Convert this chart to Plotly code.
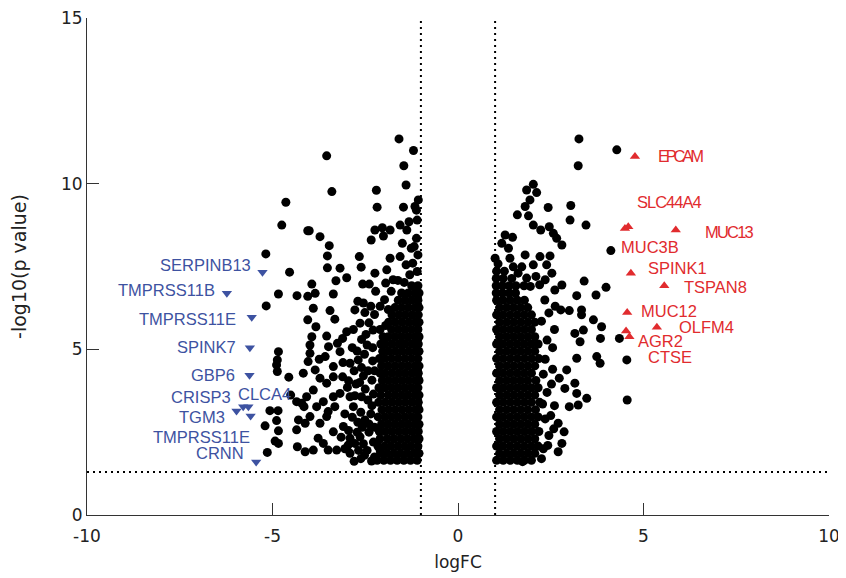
import plotly.graph_objects as go

# ---------------- data ----------------
fc_cut = 1.0
p_cut = 1.3

# sparse black points, left side (logFC, -log10 p)
left_sparse = [
    (-4.64, 9.44), (-4.75, 8.75), (-4.05, 8.58), (-5.18, 7.88), (-4.54, 7.33), (-4.84, 6.67),
    (-4.34, 6.62), (-4.05, 6.60), (-5.17, 6.31), (-4.05, 5.89), (-4.84, 4.93), (-4.87, 4.68),
    (-4.89, 4.53), (-4.87, 4.33), (-4.56, 4.16), (-4.17, 4.28), (-4.51, 3.62), (-4.35, 3.42),
    (-4.21, 3.37), (-5.07, 3.15), (-4.85, 3.15), (-4.89, 2.85), (-5.20, 2.69), (-4.84, 2.54),
    (-4.30, 2.87), (-4.35, 2.57), (-4.93, 2.23), (-4.84, 2.16), (-4.33, 2.06), (-5.14, 1.89),
    (-1.59, 11.35), (-1.20, 11.00), (-3.54, 10.84), (-1.46, 10.54), (-1.40, 9.96), (-3.40, 9.76),
    (-2.20, 9.80), (-2.18, 9.29), (-1.07, 9.51), (-1.16, 9.31), (-1.47, 9.29), (-4.01, 8.58),
    (-3.72, 8.40), (-3.47, 8.13), (-2.24, 8.60), (-2.04, 8.67), (-1.83, 8.60), (-1.56, 8.75),
    (-1.38, 8.60), (-2.34, 8.30), (-2.01, 8.42), (-3.52, 7.82), (-2.66, 7.80), (-1.83, 7.75),
    (-1.56, 7.80), (-3.52, 7.46), (-3.18, 7.45), (-3.00, 7.16), (-2.61, 7.48), (-2.24, 7.30),
    (-1.92, 7.40), (-3.94, 6.97), (-3.29, 7.07), (-3.36, 6.67), (-3.85, 6.69), (-2.57, 6.97),
    (-2.39, 6.97), (-3.90, 6.24), (-3.45, 6.17), (-3.32, 5.91), (-3.83, 5.68), (-3.94, 5.38),
    (-2.78, 6.19), (-2.51, 6.11), (-2.64, 5.79), (-3.00, 5.53), (-3.11, 5.33), (-3.25, 5.18),
    (-3.54, 5.40), (-3.49, 5.08), (-3.99, 5.13), (-3.99, 4.88), (-4.04, 4.63), (-3.74, 4.70),
    (-3.58, 4.78), (-3.18, 4.93), (-3.36, 4.48), (-3.85, 4.38), (-3.72, 4.13), (-3.54, 3.98),
    (-3.36, 4.17), (-3.11, 4.17), (-2.91, 4.58), (-2.69, 4.68), (-3.90, 3.77), (-4.08, 3.57),
    (-4.15, 3.27), (-3.81, 3.27), (-3.63, 3.42), (-3.36, 3.57), (-3.18, 3.67), (-3.32, 3.27),
    (-3.50, 3.12), (-3.54, 2.97), (-2.91, 3.57), (-2.82, 3.27), (-2.60, 3.57), (-3.99, 2.97),
    (-4.12, 2.77), (-3.72, 2.77), (-3.36, 2.51), (-3.09, 2.67), (-2.91, 2.32), (-2.96, 2.11),
    (-3.77, 2.32), (-3.63, 2.16), (-3.90, 1.96), (-4.12, 1.91), (-3.50, 1.96), (-3.27, 1.96),
    (-2.91, 1.86), (-2.78, 2.16), (-2.64, 2.36), (-2.33, 1.63), (-2.10, 1.96),
    (-2.51, 2.87), (-2.43, 3.47), (-2.32, 4.07), (-2.45, 5.13), (-2.29, 5.58), (-2.55, 4.20),
    (-2.40, 2.50), (-2.70, 2.80), (-2.52, 1.80), (-2.35, 3.05), (-2.75, 3.95), (-2.30, 4.65),
    (-2.48, 5.45), (-2.85, 5.05), (-2.35, 6.30), (-2.70, 6.45), (-2.22, 6.75), (-2.95, 4.05),
    (-1.10, 8.90), (-1.12, 8.35), (-1.18, 8.10), (-1.08, 7.85), (-1.22, 7.60), (-1.30, 7.25),
    (-1.45, 7.02), (-1.62, 7.08), (-1.10, 7.35), (-1.40, 7.55), (-1.75, 7.10), (-1.26, 8.05),
    (-1.50, 8.20), (-1.95, 7.00), (-1.12, 9.20), (-1.32, 8.85),
    (-2.25, 1.75), (-2.45, 1.95), (-2.62, 1.70), (-2.80, 1.62), (-2.28, 2.20), (-2.55, 2.15),
    (-2.72, 2.50), (-2.25, 2.65), (-2.58, 2.65), (-2.85, 2.95), (-2.32, 3.30), (-2.62, 3.10),
    (-2.78, 3.60), (-2.50, 3.80), (-2.28, 3.65), (-2.65, 4.00), (-2.42, 4.35), (-2.80, 4.35),
    (-2.60, 4.45), (-2.25, 4.35), (-2.52, 4.85), (-2.72, 4.95), (-2.30, 5.05), (-2.60, 5.30),
    (-2.82, 5.60), (-2.40, 5.80), (-2.25, 6.05), (-2.55, 6.40), (-2.95, 2.55), (-3.05, 3.05),
    (-2.98, 3.85), (-3.10, 4.60), (-3.05, 2.00), (-3.15, 2.35), (-2.68, 1.95), (-2.40, 2.75),
    (-1.98, 6.50), (-2.10, 6.30), (-1.80, 6.75), (-1.95, 5.72), (-1.88, 6.20),
]

# dense black core, left side: rows of (-log10 p, [logFC values])
left_core = [
    (1.65, [-2.18, -2.00, -1.82, -1.64, -1.46, -1.28, -1.10]),
    (1.86, [-2.09, -1.91, -1.73, -1.55, -1.37, -1.19, -1.05]),
    (2.08, [-2.16, -1.98, -1.80, -1.62, -1.44, -1.26, -1.08]),
    (2.30, [-2.10, -1.90, -1.72, -1.54, -1.36, -1.18, -1.05]),
    (2.52, [-2.12, -1.96, -1.78, -1.60, -1.42, -1.24, -1.07]),
    (2.74, [-2.06, -1.88, -1.70, -1.52, -1.34, -1.16, -1.05]),
    (2.96, [-2.15, -1.97, -1.79, -1.61, -1.43, -1.25, -1.08]),
    (3.18, [-2.05, -1.87, -1.69, -1.51, -1.33, -1.15, -1.05]),
    (3.40, [-2.14, -1.96, -1.78, -1.60, -1.42, -1.24, -1.07]),
    (3.62, [-2.08, -1.88, -1.70, -1.52, -1.34, -1.16, -1.05]),
    (3.84, [-2.13, -1.97, -1.79, -1.61, -1.43, -1.25, -1.08]),
    (4.06, [-2.04, -1.87, -1.69, -1.51, -1.33, -1.15, -1.05]),
    (4.28, [-2.10, -1.96, -1.78, -1.60, -1.42, -1.24, -1.07]),
    (4.50, [-2.06, -1.88, -1.70, -1.52, -1.34, -1.16, -1.05]),
    (4.72, [-2.12, -1.97, -1.79, -1.61, -1.43, -1.25, -1.08]),
    (4.94, [-2.03, -1.87, -1.69, -1.51, -1.33, -1.15, -1.05]),
    (5.16, [-2.08, -1.96, -1.78, -1.60, -1.42, -1.24, -1.07]),
    (5.38, [-2.02, -1.88, -1.70, -1.52, -1.34, -1.16, -1.05]),
    (5.60, [-2.10, -1.79, -1.61, -1.43, -1.25, -1.08]),
    (5.82, [-1.87, -1.69, -1.51, -1.33, -1.15, -1.05]),
    (6.04, [-1.78, -1.60, -1.42, -1.24, -1.07]),
    (6.26, [-1.70, -1.52, -1.34, -1.16, -1.05]),
    (6.48, [-1.61, -1.43, -1.25, -1.08]),
    (6.70, [-1.52, -1.34, -1.16, -1.05]),
    (6.92, [-1.25, -1.08]),
]

# sparse black points, right side
right_sparse = [
    (3.26, 11.35), (4.28, 11.02), (3.24, 10.54), (2.03, 9.98), (1.85, 9.81), (2.12, 9.73),
    (1.94, 9.51), (1.81, 9.31), (1.60, 9.06), (1.90, 9.03), (2.43, 9.28), (3.04, 9.34),
    (3.02, 8.90), (3.45, 8.75), (2.03, 8.75), (2.23, 8.60), (2.46, 8.70), (2.57, 8.50),
    (2.66, 8.35), (2.80, 8.15), (1.27, 8.45), (1.47, 8.38), (1.18, 8.20), (1.36, 8.05),
    (4.12, 7.98), (1.00, 7.75), (1.40, 7.75), (1.81, 7.85), (2.21, 7.80), (2.48, 7.82),
    (1.49, 7.49), (1.72, 7.49), (2.03, 7.55), (2.39, 7.55), (2.53, 7.30), (3.40, 7.06),
    (3.99, 6.87), (3.72, 6.64), (3.20, 6.62), (2.80, 6.94), (2.61, 6.79), (2.77, 6.19),
    (3.00, 6.17), (3.33, 6.19), (3.33, 6.04), (3.65, 5.89), (3.87, 5.68), (3.38, 5.58),
    (3.15, 5.48), (3.29, 5.23), (3.84, 5.33), (4.35, 5.33), (4.55, 4.68), (3.74, 4.78),
    (3.83, 4.58), (3.20, 4.73), (2.93, 4.38), (2.73, 4.13), (2.88, 3.82), (3.15, 3.98),
    (3.20, 3.67), (3.47, 3.52), (3.24, 3.32), (3.00, 3.27), (4.56, 3.47), (2.70, 2.77),
    (2.86, 2.51), (2.80, 2.16), (2.70, 1.91), (1.74, 1.61),
    (2.34, 6.49), (2.45, 6.10), (2.40, 5.28), (2.60, 5.60), (2.35, 4.70), (2.55, 4.40),
    (2.40, 3.70), (2.60, 3.30), (2.35, 2.90), (2.45, 2.40), (2.30, 2.00), (2.55, 5.05),
    (2.35, 7.10), (2.10, 7.20), (1.85, 7.15), (2.50, 3.00), (2.30, 4.25), (2.62, 6.30),
    (2.25, 5.85), (2.28, 3.35), (2.52, 3.95), (2.42, 2.10), (2.58, 2.60), (2.25, 1.70),
    (2.20, 6.95), (1.62, 7.30), (1.95, 6.90),
]

# dense black core, right side: rows of (-log10 p, [logFC values])
right_core = [
    (1.65, [1.04, 1.22, 1.41, 1.60, 1.79, 1.98]),
    (1.86, [1.12, 1.31, 1.50, 1.69, 1.88, 2.07]),
    (2.08, [1.04, 1.22, 1.41, 1.60, 1.79, 1.98, 2.16]),
    (2.30, [1.12, 1.31, 1.50, 1.69, 1.88, 2.07]),
    (2.52, [1.04, 1.22, 1.41, 1.60, 1.79, 1.98, 2.18]),
    (2.74, [1.12, 1.31, 1.50, 1.69, 1.88, 2.07]),
    (2.96, [1.04, 1.22, 1.41, 1.60, 1.79, 1.98, 2.16]),
    (3.18, [1.12, 1.31, 1.50, 1.69, 1.88, 2.09]),
    (3.40, [1.04, 1.22, 1.41, 1.60, 1.79, 1.98, 2.20]),
    (3.62, [1.12, 1.31, 1.50, 1.69, 1.88, 2.07]),
    (3.84, [1.04, 1.22, 1.41, 1.60, 1.79, 1.98, 2.16]),
    (4.06, [1.12, 1.31, 1.50, 1.69, 1.88, 2.10]),
    (4.28, [1.04, 1.22, 1.41, 1.60, 1.79, 1.98]),
    (4.50, [1.12, 1.31, 1.50, 1.69, 1.88, 2.07]),
    (4.72, [1.04, 1.22, 1.41, 1.60, 1.79, 1.98, 2.18]),
    (4.94, [1.12, 1.31, 1.50, 1.69, 1.88, 2.07]),
    (5.16, [1.04, 1.22, 1.41, 1.60, 1.79, 1.98, 2.16]),
    (5.38, [1.12, 1.31, 1.50, 1.69, 1.88, 2.07]),
    (5.60, [1.04, 1.22, 1.41, 1.60, 1.79, 1.98]),
    (5.82, [1.12, 1.31, 1.50, 1.69, 1.88, 2.07]),
    (6.04, [1.04, 1.22, 1.41, 1.60, 1.79, 1.98]),
    (6.26, [1.12, 1.31, 1.50, 1.69, 1.88]),
    (6.48, [1.04, 1.22, 1.41, 1.60, 1.79]),
    (6.70, [1.03, 1.20, 1.38, 1.55]),
    (6.92, [1.03, 1.20, 1.38, 1.56, 1.78]),
    (7.14, [1.03, 1.22, 1.45]),
    (7.36, [1.04, 1.25]),
    (7.58, [1.08]),
]

# labelled down-regulated genes (markers)
down_x = [-5.27, -6.23, -5.56, -5.61, -5.62, -5.97, -5.79, -5.65, -5.59, -5.44]
down_y = [7.33, 6.69, 5.97, 5.05, 4.22, 3.14, 3.27, 3.27, 2.99, 1.60]
# labels (text, right edge x, y)
down_names = ["SERPINB13", "TMPRSS11B", "TMPRSS11E", "SPINK7", "GBP6",
              "CRISP3", "TGM3", "TMPRSS11E", "CRNN"]
down_lab_x = [-5.53, -6.50, -5.93, -5.93, -5.96, -6.06, -6.23, -5.55, -5.71]
down_lab_y = [7.55, 6.79, 5.92, 5.07, 4.23, 3.56, 2.96, 2.35, 1.87]
clca4_lab = ("CLCA4", -5.98, 3.65)

# labelled up-regulated genes (markers)
up_x = [4.77, 4.50, 4.59, 5.87, 4.66, 5.56, 4.56, 5.36, 4.53, 4.62]
up_y = [10.82, 8.65, 8.70, 8.60, 7.30, 6.92, 6.11, 5.67, 5.55, 5.38]
up_names = ["EPCAM", "SLC44A4", "MUC13", "MUC3B", "SPINK1", "TSPAN8",
            "MUC12", "OLFM4", "AGR2", "CTSE"]
up_lab_x = [5.34, 4.77, 6.60, 4.34, 5.06, 6.03, 4.89, 5.89, 4.80, 5.06]
up_lab_y = [10.84, 9.46, 8.55, 8.08, 7.45, 6.87, 6.16, 5.68, 5.26, 4.78]
squeeze_px = {"EPCAM": -3.2, "SLC44A4": -1.0, "MUC13": -1.8}

x_ticks = [-10, -5, 0, 5, 10]
x_ticktext = ["-10", "-5", "0", "5", "10"]
y_ticks = [0, 5, 10, 15]
y_ticktext = ["0", "5", "10", "15"]

# ---------------- build ----------------
BLUE = "#3d52a1"
RED = "#e12b2e"

bx, by = [], []
for p in left_sparse + right_sparse:
    bx.append(p[0]); by.append(p[1])
for yv, xs in left_core + right_core:
    for xv in xs:
        bx.append(xv); by.append(yv)

fig = go.Figure()
fig.add_trace(go.Scatter(x=bx, y=by, mode="markers",
                         marker=dict(color="black", size=9, line=dict(width=0)),
                         hoverinfo="skip", showlegend=False))
fig.add_trace(go.Scatter(x=down_x, y=down_y, mode="markers",
                         marker=dict(color=BLUE, size=9, symbol="triangle-down", line=dict(width=0)),
                         showlegend=False))
fig.add_trace(go.Scatter(x=up_x, y=up_y, mode="markers",
                         marker=dict(color=RED, size=9, symbol="triangle-up", line=dict(width=0)),
                         showlegend=False))

lab_font = "Liberation Sans, Arial"
for t, xv, yv in zip(down_names, down_lab_x, down_lab_y):
    fig.add_annotation(x=xv, y=yv, text=t, showarrow=False, xanchor="right", yanchor="middle",
                       font=dict(family=lab_font, size=16.5, color=BLUE))
fig.add_annotation(x=clca4_lab[1], y=clca4_lab[2], text=clca4_lab[0], showarrow=False,
                   xanchor="left", yanchor="middle",
                   font=dict(family=lab_font, size=16.5, color=BLUE))
for t, xv, yv in zip(up_names, up_lab_x, up_lab_y):
    txt = t
    if t in squeeze_px:
        txt = '<span style="letter-spacing:%.1fpx">%s</span>' % (squeeze_px[t], t)
    fig.add_annotation(x=xv, y=yv, text=txt, showarrow=False, xanchor="left", yanchor="middle",
                       font=dict(family=lab_font, size=16.5, color=RED))

dot = dict(color="black", width=2, dash="2px,4px")
fig.add_shape(type="line", x0=-fc_cut, x1=-fc_cut, y0=0, y1=15, line=dot, layer="below")
fig.add_shape(type="line", x0=fc_cut, x1=fc_cut, y0=0, y1=15, line=dot, layer="below")
fig.add_shape(type="line", x0=-10, x1=10, y0=p_cut, y1=p_cut, line=dot, layer="below")

axis_font = dict(family="DejaVu Sans", size=17, color="#222")
# the page body adds an 8px offset, so the figure is 838x570 with margins shifted accordingly
fig.update_layout(
    width=838, height=570,
    margin=dict(l=79, r=17, t=10, b=63, autoexpand=False),
    paper_bgcolor="white", plot_bgcolor="white",
    xaxis=dict(range=[-10, 10], tickvals=x_ticks, ticktext=x_ticktext, automargin=False,
               ticks="inside", ticklen=12, tickcolor="#333", showline=True,
               linecolor="#333", linewidth=1, showgrid=False, zeroline=False,
               ticklabelstandoff=6, ticklabeloverflow="allow",
               tickfont=axis_font, title=dict(text="logFC", font=axis_font, standoff=10)),
    yaxis=dict(range=[0, 15], tickvals=y_ticks, ticktext=y_ticktext, automargin=False,
               ticks="inside", ticklen=12, tickcolor="#333", showline=True,
               linecolor="#333", linewidth=1, showgrid=False, zeroline=False,
               ticklabeloverflow="allow",
               tickfont=axis_font,
               title=dict(text="-log10(p value)", font=dict(family="DejaVu Sans", size=19, color="#222"),
                          standoff=34)),
)

fig.write_html("out.html")
